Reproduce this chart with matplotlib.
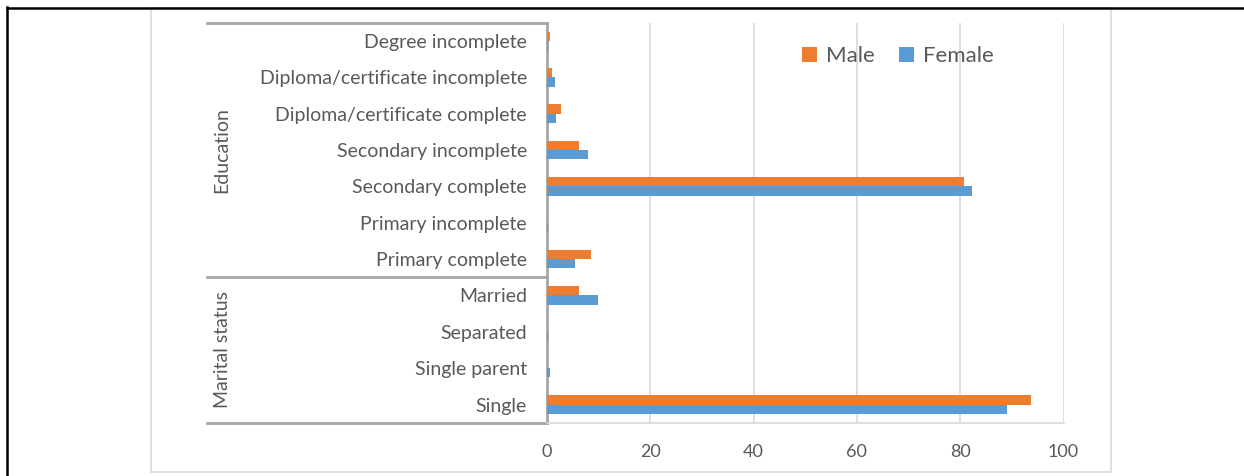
import matplotlib
matplotlib.use("Agg")
import matplotlib.pyplot as plt
from matplotlib.lines import Line2D
from matplotlib.patches import Patch, Rectangle
import matplotlib.transforms as mtransforms
import numpy as np

plt.rcParams['font.family'] = ['Lato', 'DejaVu Sans']

# Categories listed bottom-to-top
categories = [
    "Single", "Single parent", "Separated", "Married",
    "Primary complete", "Primary incomplete", "Secondary complete",
    "Secondary incomplete", "Diploma/certificate complete",
    "Diploma/certificate incomplete", "Degree incomplete",
]
male = [93.8, 0.0, 0.0, 6.2, 8.6, 0.0, 80.8, 6.2, 2.8, 0.9, 0.5]
female = [89.1, 0.5, 0.2, 9.9, 5.4, 0.2, 82.3, 8.0, 1.8, 1.5, 0.2]
groups = [("Marital status", 0, 3), ("Education", 4, 10)]
xticks = [0, 20, 40, 60, 80, 100]

ORANGE = "#ED7D31"
BLUE = "#5B9BD5"
TEXT = "#595959"
GRID = "#D9D9D9"
AXIS = "#A6A6A6"

W, H = 1244, 476
fig = plt.figure(figsize=(W / 100, H / 100), dpi=100)

left, right = 547 / W, 1063.5 / W
top, bottom = 1 - 22.7 / H, 1 - 422.7 / H
ax = fig.add_axes([left, bottom, right - left, top - bottom])

y = np.arange(len(categories))
bh = 0.256
ax.barh(y + bh / 2, male, height=bh, color=ORANGE, label="Male", zorder=3)
ax.barh(y - bh / 2, female, height=bh, color=BLUE, label="Female", zorder=3)

ax.set_xlim(0, 100)
ax.set_ylim(-0.5, len(categories) - 0.5)
ax.set_xticks(xticks)
ax.set_xticklabels([str(t) for t in xticks])
ax.set_yticks(y)
ax.set_yticklabels(categories)
ax.tick_params(axis="both", length=0, colors=TEXT)
ax.tick_params(axis="x", labelsize=13, pad=15)
ax.tick_params(axis="y", labelsize=14, pad=14.4)
ax.xaxis.grid(True, color=GRID, lw=1.2, zorder=0)
for s in ("top", "right"):
    ax.spines[s].set_visible(False)
ax.spines["left"].set_color(AXIS)
ax.spines["left"].set_linewidth(2.0)
ax.spines["bottom"].set_color(GRID)
ax.spines["bottom"].set_linewidth(1.2)

# Group separators and rotated group labels
trans = mtransforms.blended_transform_factory(ax.transAxes, ax.transData)
xsep = (207 - 547) / (1063.5 - 547)
xlab = (222 - 547) / (1063.5 - 547)
for yy in (-0.5, 3.5, len(categories) - 0.5):
    ax.add_line(Line2D([xsep, 0], [yy, yy], transform=trans, color=AXIS,
                       lw=2.0, clip_on=False))
for name, lo, hi in groups:
    ax.text(xlab, (lo + hi) / 2, name, transform=trans, rotation=90,
            ha="center", va="center", color=TEXT, fontsize=14)

# Legend
handles = [Patch(facecolor=ORANGE, label="Male"),
           Patch(facecolor=BLUE, label="Female")]
fig.legend(handles=handles, loc="center", bbox_to_anchor=(898 / W, 1 - 56 / H),
           ncol=2, frameon=False, fontsize=16, labelcolor=TEXT,
           handlelength=0.66, handleheight=0.66, handletextpad=0.4,
           columnspacing=1.1)

# Chart border and page frame
fig.add_artist(Rectangle((150.7 / W, 1 - 471.5 / H), (1111 - 150.7) / W,
                         (471.5 - 7.5) / H, transform=fig.transFigure,
                         fill=False, edgecolor=GRID, lw=1.2))
fig.add_artist(Line2D([7 / W, 1], [1 - 7.5 / H, 1 - 7.5 / H],
                      transform=fig.transFigure, color="black", lw=1.8))
fig.add_artist(Line2D([7.5 / W, 7.5 / W], [0, 1 - 7 / H],
                      transform=fig.transFigure, color="black", lw=1.8))

fig.savefig("out.png", dpi=100, facecolor="white")
